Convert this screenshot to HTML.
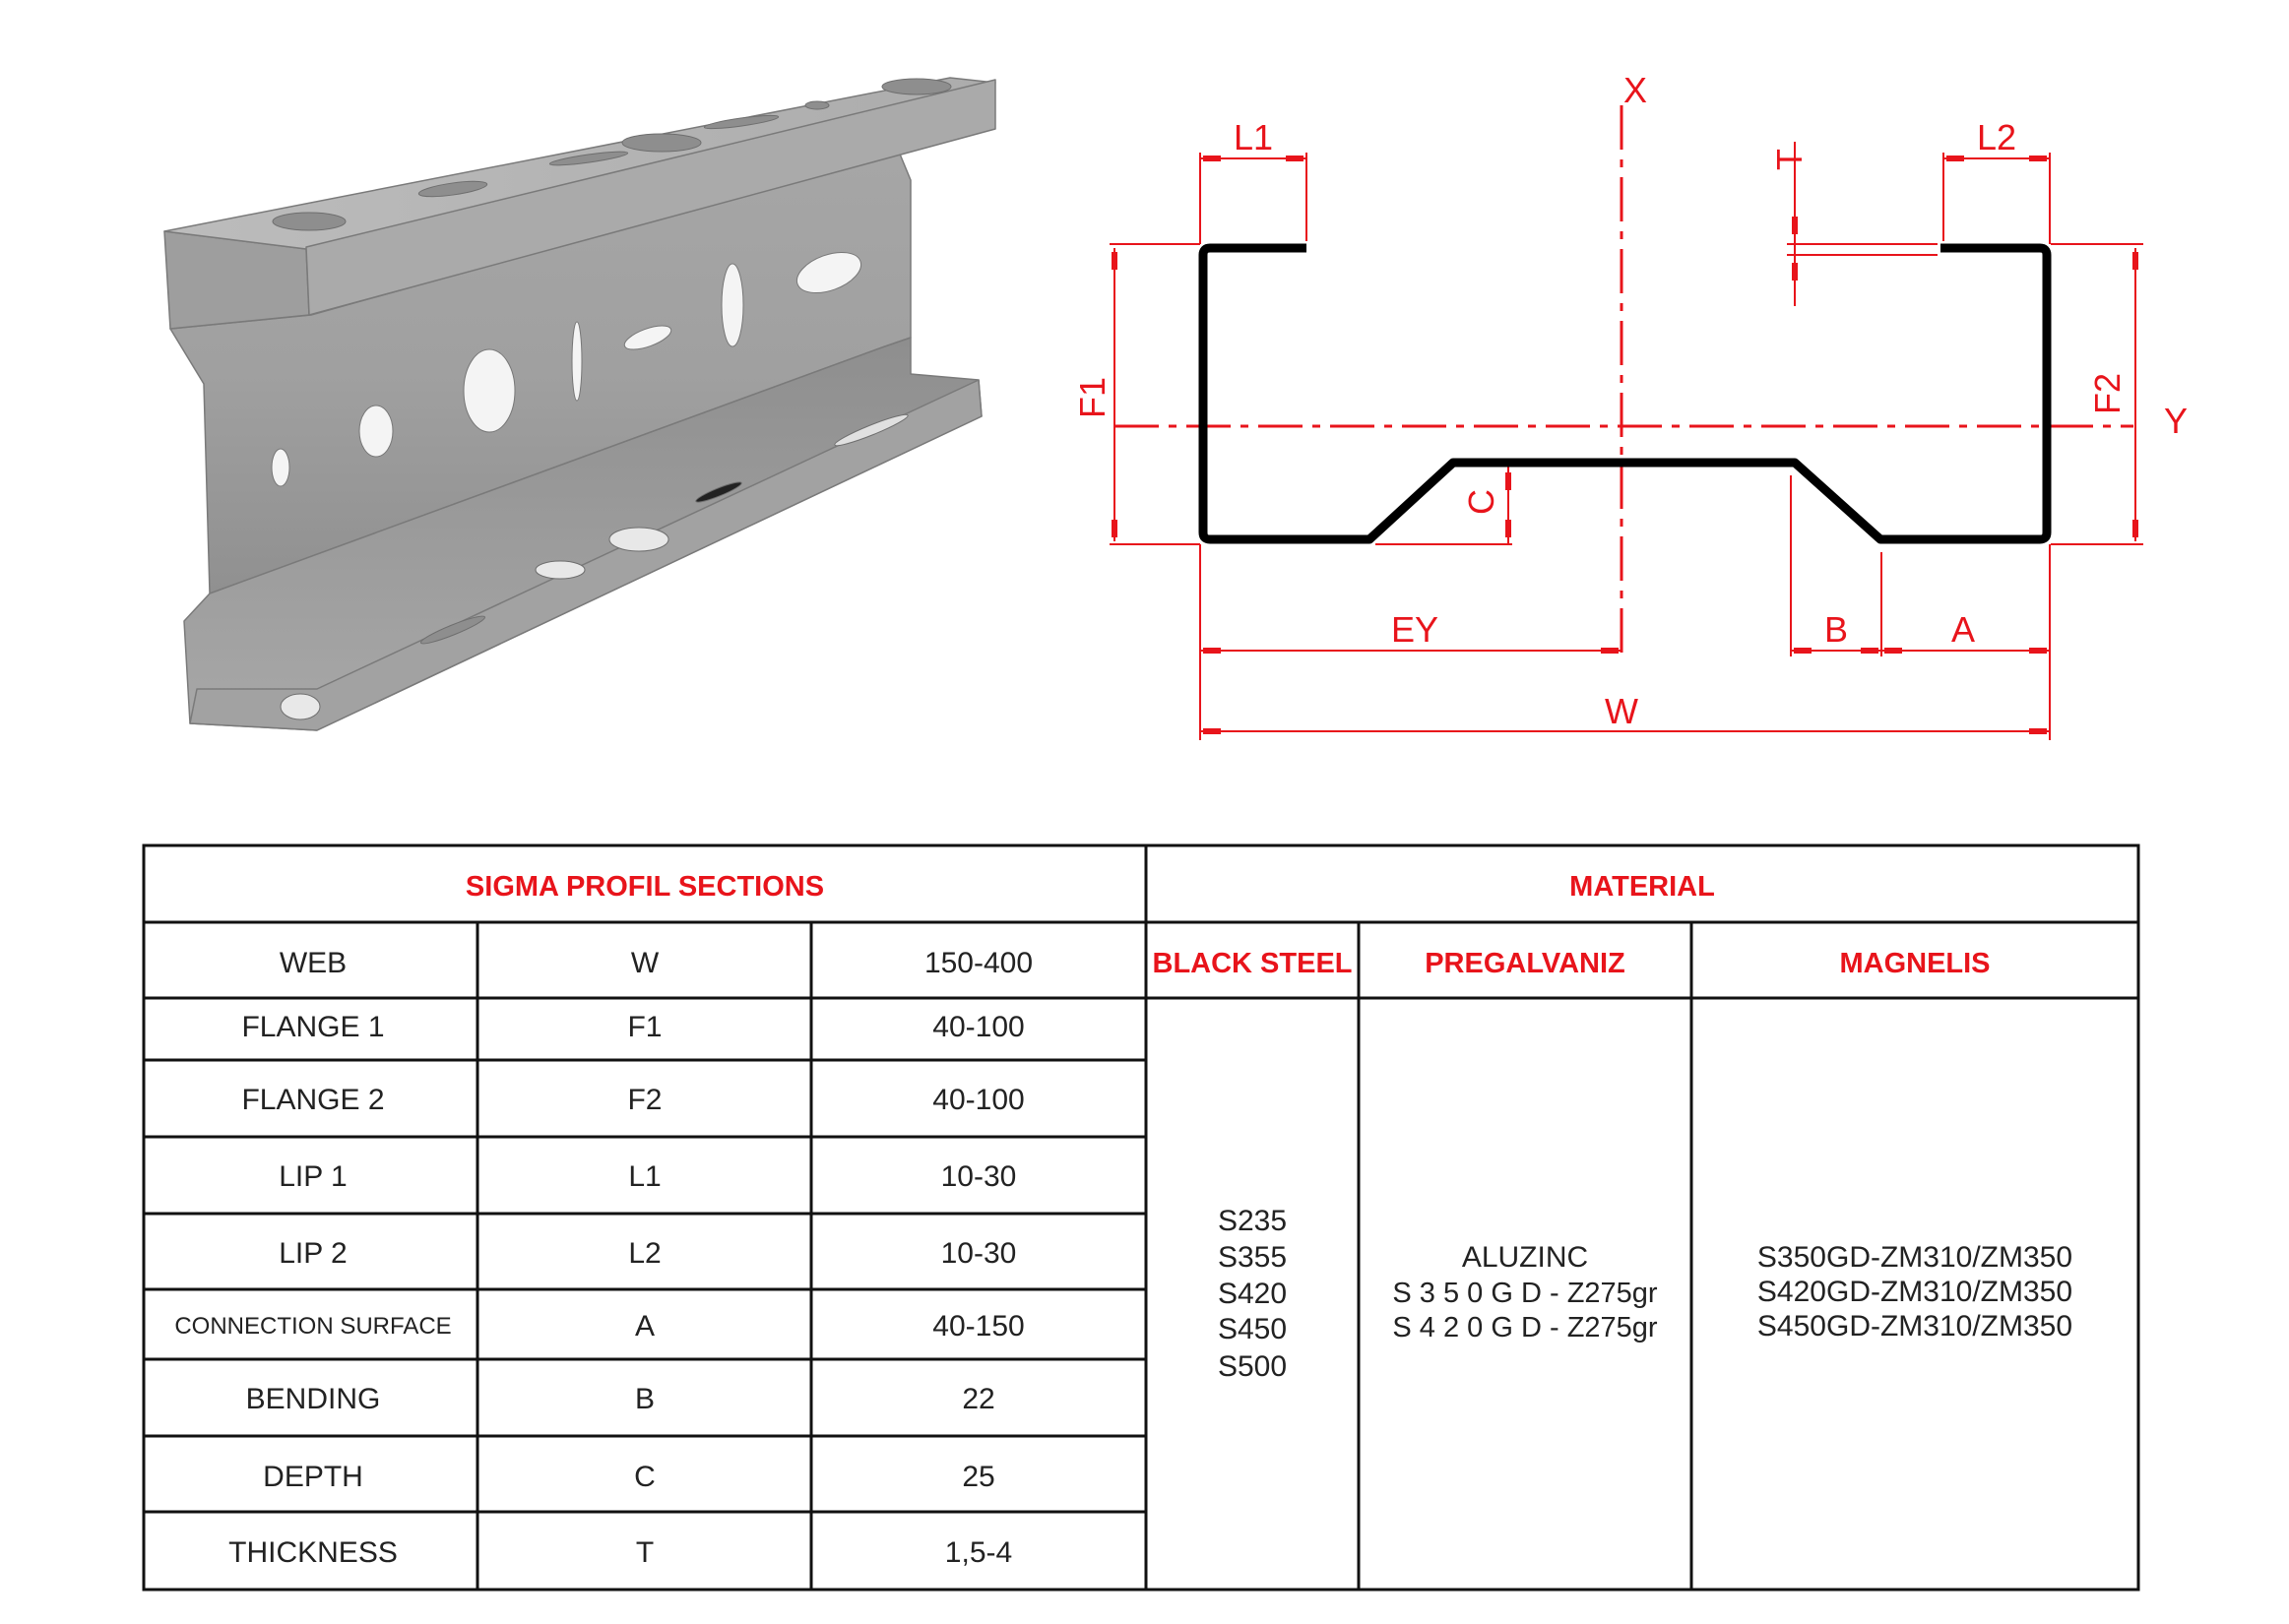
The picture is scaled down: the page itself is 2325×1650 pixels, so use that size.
<!DOCTYPE html>
<html><head><meta charset="utf-8"><style>
html,body{margin:0;padding:0;background:#fff;}
svg{display:block;}
text{font-family:"Liberation Sans",sans-serif;}
</style></head><body>
<svg width="2325" height="1650" viewBox="0 0 2325 1650" xmlns="http://www.w3.org/2000/svg">
<defs>
<linearGradient id="gt" x1="0" y1="0" x2="1" y2="0"><stop offset="0" stop-color="#bcbcbc"/><stop offset="1" stop-color="#acacac"/></linearGradient>
<linearGradient id="gw" x1="0" y1="0" x2="0" y2="1"><stop offset="0" stop-color="#a6a6a6"/><stop offset="0.5" stop-color="#a0a0a0"/><stop offset="1" stop-color="#909090"/></linearGradient>
<linearGradient id="gb" x1="0" y1="0" x2="0" y2="1"><stop offset="0" stop-color="#8e8e8e"/><stop offset="1" stop-color="#a8a8a8"/></linearGradient>
</defs>
<g stroke="#7a7a7a" stroke-width="1.5" stroke-linejoin="round">
<polygon points="173,334 316,320 913,154 925,183 925,343 896,353 213,603 207,390" fill="url(#gw)"/>
<polygon points="187,631 213,603 896,353 925,343 925,380 994,386 997,423 322,742 193,735" fill="url(#gb)"/>
<polygon points="193,735 322,742 997,423 994,386 322,700 200,700" fill="#a2a2a2"/>
<polygon points="167,235 311,253 314,320 173,334" fill="#9e9e9e"/>
<polygon points="167,235 965,79 1011,84 311,253" fill="url(#gt)"/>
<polygon points="311,251 1011,81 1011,131 314,320" fill="#aaaaaa"/>
</g>
<g fill="#f4f4f4" stroke="#777" stroke-width="1">
<ellipse cx="285" cy="475" rx="9" ry="19"/>
<ellipse cx="382" cy="438" rx="17" ry="26"/>
<ellipse cx="497" cy="397" rx="26" ry="42"/>
<ellipse cx="586" cy="367" rx="5" ry="40"/>
<ellipse cx="658" cy="343" rx="25" ry="9" transform="rotate(-20 658 343)"/>
<ellipse cx="744" cy="310" rx="11" ry="42"/>
<ellipse cx="842" cy="277" rx="34" ry="18" transform="rotate(-20 842 277)"/>
</g>
<g fill="#8e8e8e" stroke="#6e6e6e" stroke-width="1">
<ellipse cx="314" cy="225" rx="37" ry="9"/>
<ellipse cx="460" cy="192" rx="35" ry="6" transform="rotate(-8 460 192)"/>
<ellipse cx="598" cy="161" rx="40" ry="4" transform="rotate(-8 598 161)"/>
<ellipse cx="672" cy="145" rx="40" ry="9"/>
<ellipse cx="753" cy="124" rx="38" ry="4" transform="rotate(-8 753 124)"/>
<ellipse cx="830" cy="107" rx="12" ry="4"/>
<ellipse cx="931" cy="88" rx="35" ry="8"/>
<ellipse cx="305" cy="718" rx="20" ry="13" fill="#e8e8e8"/>
<ellipse cx="460" cy="640" rx="35" ry="5" transform="rotate(-22 460 640)"/>
<ellipse cx="569" cy="579" rx="25" ry="9" fill="#e8e8e8"/>
<ellipse cx="649" cy="548" rx="30" ry="12" fill="#e8e8e8"/>
<ellipse cx="885" cy="437" rx="40" ry="5" transform="rotate(-22 885 437)" fill="#e0e0e0"/>
<ellipse cx="730" cy="500" rx="25" ry="4" transform="rotate(-22 730 500)" fill="#222"/>
</g>

<g stroke="#e8141b" fill="none" stroke-width="2">
<line x1="1647" y1="107" x2="1647" y2="667" stroke-width="3" stroke-dasharray="45 10 8 10"/>
<line x1="1132" y1="433" x2="2167" y2="433" stroke-width="3" stroke-dasharray="45 10 8 10"/>
<line x1="1219" y1="155" x2="1219" y2="248"/><line x1="1327" y1="155" x2="1327" y2="245"/>
<line x1="1219" y1="161" x2="1327" y2="161"/>
<line x1="1974" y1="155" x2="1974" y2="245"/><line x1="2082" y1="155" x2="2082" y2="248"/>
<line x1="1974" y1="161" x2="2082" y2="161"/>
<line x1="1823" y1="144" x2="1823" y2="311"/>
<line x1="1815" y1="248" x2="1968" y2="248"/><line x1="1815" y1="259" x2="1968" y2="259"/>
<line x1="1127" y1="248" x2="1219" y2="248"/><line x1="1127" y1="553" x2="1219" y2="553"/>
<line x1="1132" y1="252" x2="1132" y2="550"/>
<line x1="2083" y1="248" x2="2177" y2="248"/><line x1="2083" y1="553" x2="2177" y2="553"/>
<line x1="2169" y1="252" x2="2169" y2="550"/>
<line x1="1532" y1="467" x2="1532" y2="553"/><line x1="1397" y1="553" x2="1536" y2="553"/>
<line x1="1219" y1="553" x2="1219" y2="752"/><line x1="2082" y1="553" x2="2082" y2="752"/>
<line x1="1819" y1="483" x2="1819" y2="667"/><line x1="1911" y1="561" x2="1911" y2="667"/>
<line x1="1219" y1="661" x2="1647" y2="661"/>
<line x1="1819" y1="661" x2="1911" y2="661"/>
<line x1="1911" y1="661" x2="2082" y2="661"/>
<line x1="1219" y1="743" x2="2082" y2="743"/>
</g>
<g fill="#e8141b">
<rect x="1222" y="158" width="18" height="6"/><rect x="1306" y="158" width="18" height="6"/>
<rect x="1977" y="158" width="18" height="6"/><rect x="2061" y="158" width="18" height="6"/>
<rect x="1820" y="220" width="6" height="18"/><rect x="1820" y="267" width="6" height="18"/>
<rect x="1129" y="256" width="6" height="18"/><rect x="1129" y="528" width="6" height="18"/>
<rect x="2166" y="256" width="6" height="18"/><rect x="2166" y="528" width="6" height="18"/>
<rect x="1529" y="480" width="6" height="18"/><rect x="1529" y="528" width="6" height="18"/>
<rect x="1222" y="658" width="18" height="6"/><rect x="1626" y="658" width="18" height="6"/>
<rect x="1822" y="658" width="18" height="6"/><rect x="1890" y="658" width="18" height="6"/>
<rect x="1914" y="658" width="18" height="6"/><rect x="2061" y="658" width="18" height="6"/>
<rect x="1222" y="740" width="18" height="6"/><rect x="2061" y="740" width="18" height="6"/>
</g>
<path d="M1327,252 L1229,252 Q1222,252 1222,259 L1222,541 Q1222,548 1229,548 L1391,548 L1476,470 L1823,470 L1910,548 L2072,548 Q2079,548 2079,541 L2079,259 Q2079,252 2072,252 L1971,252" fill="none" stroke="#000" stroke-width="9" stroke-linejoin="round"/>
<g fill="#e8141b" font-size="36" text-anchor="middle">
<text x="1273" y="152">L1</text>
<text x="2028" y="152">L2</text>
<text x="1661" y="104">X</text>
<text x="2210" y="440">Y</text>
<text x="1437" y="652">EY</text>
<text x="1865" y="652">B</text>
<text x="1994" y="652">A</text>
<text x="1647" y="735">W</text>
<text transform="translate(1122,404) rotate(-90)">F1</text>
<text transform="translate(2153,400) rotate(-90)">F2</text>
<text transform="translate(1517,510) rotate(-90)">C</text>
<text transform="translate(1830,162) rotate(-90)">T</text>
</g>

<g stroke="#111" stroke-width="3" fill="none">
<rect x="146" y="859" width="2026" height="756"/>
<line x1="146" y1="937" x2="2172" y2="937"/>
<line x1="146" y1="1014" x2="2172" y2="1014"/>
<line x1="146" y1="1077" x2="1164" y2="1077"/>
<line x1="146" y1="1155" x2="1164" y2="1155"/>
<line x1="146" y1="1233" x2="1164" y2="1233"/>
<line x1="146" y1="1310" x2="1164" y2="1310"/>
<line x1="146" y1="1381" x2="1164" y2="1381"/>
<line x1="146" y1="1459" x2="1164" y2="1459"/>
<line x1="146" y1="1536" x2="1164" y2="1536"/>
<line x1="485" y1="937" x2="485" y2="1615"/>
<line x1="824" y1="937" x2="824" y2="1615"/>
<line x1="1164" y1="859" x2="1164" y2="1615"/>
<line x1="1380" y1="937" x2="1380" y2="1615"/>
<line x1="1718" y1="937" x2="1718" y2="1615"/>
</g>
<g fill="#e8141b" font-size="29" font-weight="bold" text-anchor="middle">
<text x="655" y="910">SIGMA PROFIL SECTIONS</text>
<text x="1668" y="910">MATERIAL</text>
<text x="1272" y="988">BLACK STEEL</text>
<text x="1549" y="988">PREGALVANIZ</text>
<text x="1945" y="988">MAGNELIS</text>
</g>
<g fill="#222" font-size="30" text-anchor="middle">
<text x="318" y="988">WEB</text><text x="655" y="988">W</text><text x="994" y="988">150-400</text>
<text x="318" y="1053">FLANGE 1</text><text x="655" y="1053">F1</text><text x="994" y="1053">40-100</text>
<text x="318" y="1127">FLANGE 2</text><text x="655" y="1127">F2</text><text x="994" y="1127">40-100</text>
<text x="318" y="1205">LIP 1</text><text x="655" y="1205">L1</text><text x="994" y="1205">10-30</text>
<text x="318" y="1283">LIP 2</text><text x="655" y="1283">L2</text><text x="994" y="1283">10-30</text>
<text x="318" y="1355" font-size="24">CONNECTION SURFACE</text><text x="655" y="1357">A</text><text x="994" y="1357">40-150</text>
<text x="318" y="1431">BENDING</text><text x="655" y="1431">B</text><text x="994" y="1431">22</text>
<text x="318" y="1510">DEPTH</text><text x="655" y="1510">C</text><text x="994" y="1510">25</text>
<text x="318" y="1587">THICKNESS</text><text x="655" y="1587">T</text><text x="994" y="1587">1,5-4</text>
<text x="1272" y="1250">S235</text>
<text x="1272" y="1287">S355</text>
<text x="1272" y="1324">S420</text>
<text x="1272" y="1360">S450</text>
<text x="1272" y="1398">S500</text>
<text x="1549" y="1287">ALUZINC</text>
<text x="1549" y="1323" font-size="29">S 3 5 0 G D - Z275gr</text>
<text x="1549" y="1358" font-size="29">S 4 2 0 G D - Z275gr</text>
<text x="1945" y="1287">S350GD-ZM310/ZM350</text>
<text x="1945" y="1322">S420GD-ZM310/ZM350</text>
<text x="1945" y="1357">S450GD-ZM310/ZM350</text>
</g>
</svg>
</body></html>
